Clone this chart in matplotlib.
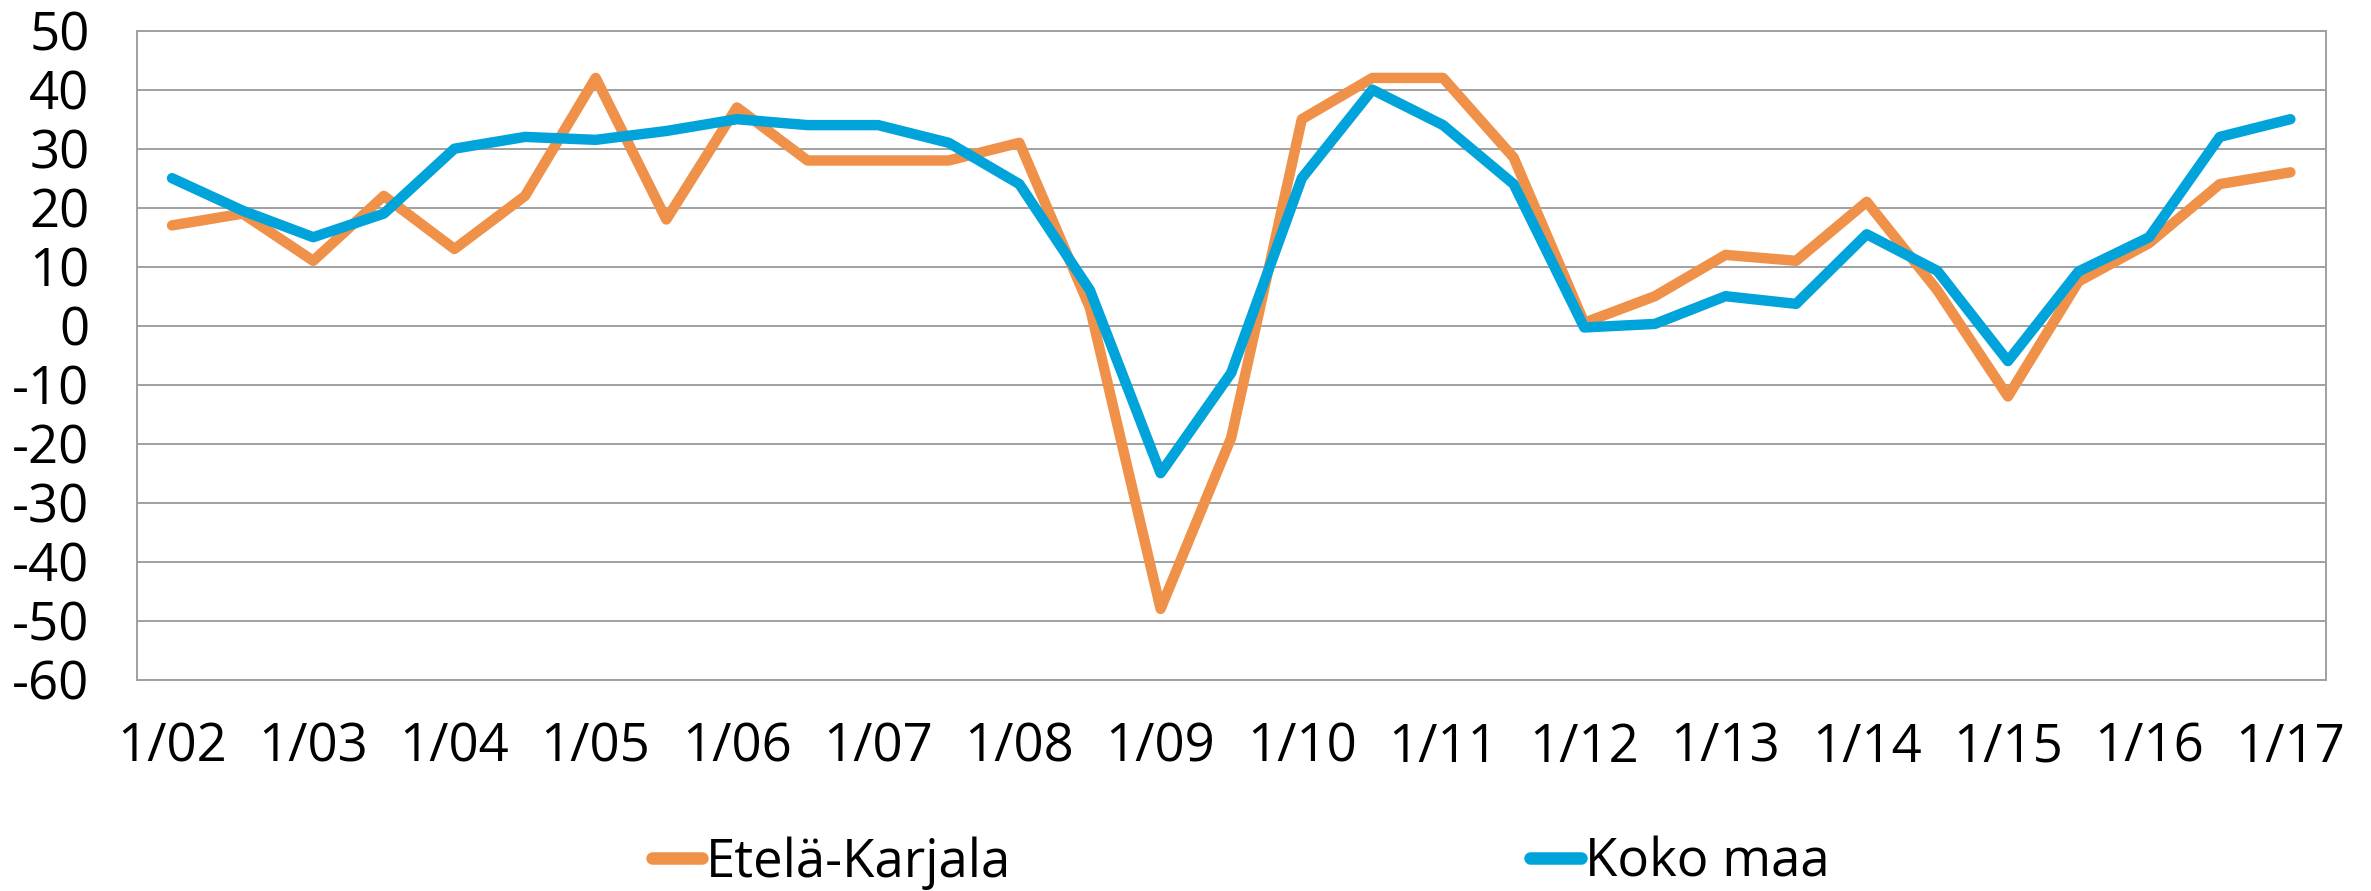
import matplotlib
matplotlib.use("Agg")
import matplotlib.pyplot as plt
import numpy as np

# Data (half-year points from 1/02 to 1/17)
periods = ['1/02', '7/02', '1/03', '7/03', '1/04', '7/04', '1/05', '7/05', '1/06', '7/06',
           '1/07', '7/07', '1/08', '7/08', '1/09', '7/09', '1/10', '7/10', '1/11', '7/11',
           '1/12', '7/12', '1/13', '7/13', '1/14', '7/14', '1/15', '7/15', '1/16', '7/16', '1/17']
etela_karjala = [17, 19, 11, 22, 13, 22, 42, 18, 37, 28, 28, 28, 31, 3, -48, -19, 35, 42, 42, 28.5,
                 0.5, 5, 12, 11, 21, 6, -12, 7.5, 14, 24, 26]
koko_maa = [25, 19.5, 15, 19, 30, 32, 31.5, 33, 35, 34, 34, 31, 24, 6, -25, -8, 25, 40, 34, 24,
            -0.3, 0.3, 5, 3.7, 15.5, 9.3, -6, 9.2, 15, 32, 35]
tick_labels = ['1/02', '1/03', '1/04', '1/05', '1/06', '1/07', '1/08', '1/09', '1/10', '1/11',
               '1/12', '1/13', '1/14', '1/15', '1/16', '1/17']
y_ticks = list(range(-60, 51, 10))
series_names = ['Etelä-Karjala', 'Koko maa']

plt.rcParams['font.family'] = ['Open Sans', 'DejaVu Sans']
FS = 38

fig = plt.figure(figsize=(23.71, 8.91), dpi=100)
ax = fig.add_axes([136.7 / 2371, 1 - 679.7 / 891, (2325.7 - 136.7) / 2371, (679.7 - 30.7) / 891])

x = np.arange(len(periods))
orange = '#F0914A'
blue = '#00A4DA'
l1, = ax.plot(x, etela_karjala, color=orange, lw=7.5, solid_capstyle='round',
              solid_joinstyle='round', zorder=3)
l2, = ax.plot(x, koko_maa, color=blue, lw=7.5, solid_capstyle='round',
              solid_joinstyle='round', zorder=4)

ax.set_xlim(-0.5, len(periods) - 0.5)
ax.set_ylim(-60, 50)
ax.set_yticks(y_ticks)
ax.set_yticklabels([str(v) for v in y_ticks])
tick_pos = [periods.index(t) for t in tick_labels]
ax.set_xticks(tick_pos)
ax.set_xticklabels(tick_labels)
ax.tick_params(axis='both', length=0, labelsize=FS)
ax.tick_params(axis='y', pad=34)
ax.tick_params(axis='x', pad=30)

gridc = '#A0A0A0'
ax.grid(axis='y', color=gridc, lw=1.4, zorder=0)
for s in ax.spines.values():
    s.set_color(gridc)
    s.set_linewidth(1.4)

leg = fig.legend([l1, l2], series_names, loc='center left',
                 bbox_to_anchor=(652 / 2371, 1 - 863 / 891), ncol=2, frameon=False,
                 fontsize=FS, handlelength=0.95, handletextpad=0.08, columnspacing=9.83,
                 borderpad=0, borderaxespad=0)
for h in leg.legend_handles:
    h.set_linewidth(9)
    h.set_solid_capstyle('round')

fig.savefig('out.png', dpi=100)
